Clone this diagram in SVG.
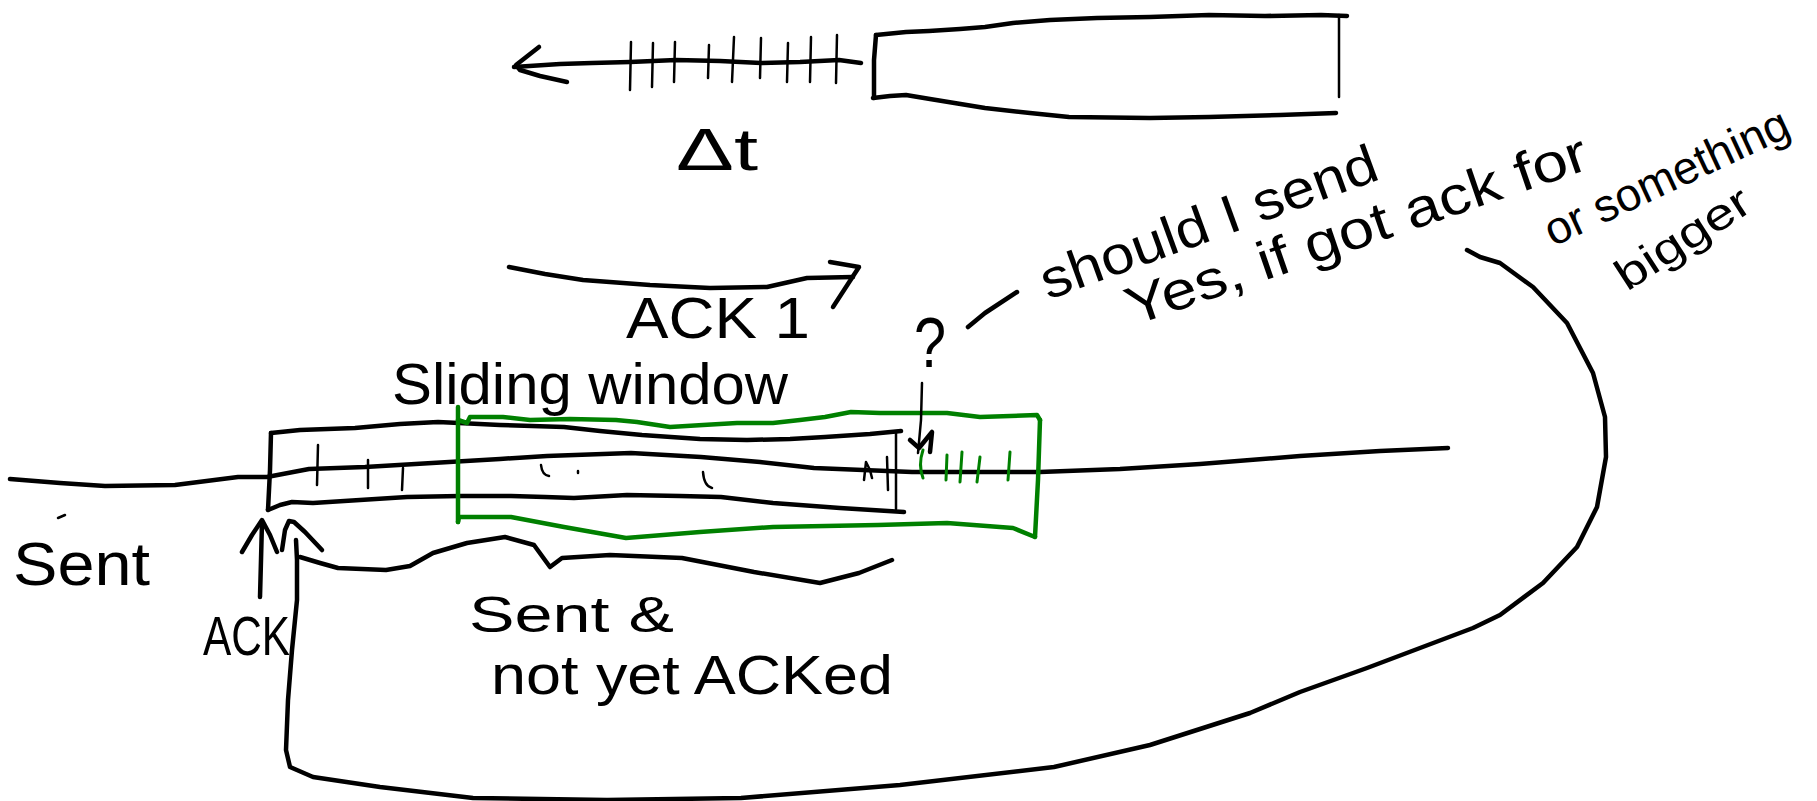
<svg xmlns="http://www.w3.org/2000/svg" width="1817" height="801" viewBox="0 0 1817 801">
  <style>
    .ink { fill: none; stroke: #000; stroke-width: 4.5; stroke-linecap: round; stroke-linejoin: round; }
    .thin { fill: none; stroke: #000; stroke-width: 2.5; stroke-linecap: round; stroke-linejoin: round; }
    .green { fill: none; stroke: #008000; stroke-width: 4.5; stroke-linecap: round; stroke-linejoin: round; }
    .green-thin { fill: none; stroke: #008000; stroke-width: 3; stroke-linecap: round; }
    .hand { font-family: "Liberation Sans", "DejaVu Sans", sans-serif; fill: #000; }
  </style>
  <rect width="1817" height="801" fill="#fff"/>

  <!-- time axis with ticks, pointing left -->
  <g id="timeline">
    <path class="ink" d="M861,63 L839,60 L800,62 L761,63 L720,61 L676,60 L630,62 L592,63 L560,64 L514,67"/>
    <path class="ink" d="M539,47 L516,65 L520,70 L540,76 L567,82"/>
    <path class="thin" d="M631,42 L630,90 M653,43 L652,87 M675,42 L674,82 M709,45 L708,78 M734,37 L732,82 M761,38 L760,78 M788,43 L787,82 M811,37 L810,82 M837,35 L836,83"/>
  </g>

  <!-- packet block on the time axis -->
  <g id="timeline-box">
    <path class="ink" d="M876,35 L906,32 L929,31 L960,29 L985,27 L1013,23 L1050,20 L1097,18 L1150,17 L1209,15 L1265,16 L1321,15 L1347,16"/>
    <path class="thin" d="M1339,15 L1339,97"/>
    <path class="ink" d="M876,35 L874,60 L874,98"/>
    <path class="ink" d="M873,98 L890,96 L906,95 L930,99 L985,108 L1030,113 L1069,117 L1150,118 L1209,117 L1280,115 L1336,113"/>
  </g>

  <g id="delta-t">
    <text class="hand" x="676" y="170" font-size="60" textLength="82" lengthAdjust="spacingAndGlyphs">Δt</text>
  </g>

  <g id="ack1">
    <text class="hand" x="626" y="338" font-size="58" textLength="184" lengthAdjust="spacingAndGlyphs">ACK 1</text>
  </g>

  <g id="question">
    <text class="hand" x="914" y="367" font-size="70" textLength="32" lengthAdjust="spacingAndGlyphs">?</text>
  </g>

  <!-- rotated notes -->
  <g id="note-should">
    <text class="hand" transform="translate(1048,300) rotate(-20)" font-size="54" textLength="355" lengthAdjust="spacingAndGlyphs">should I send</text>
  </g>
  <g id="note-yes">
    <text class="hand" transform="translate(1133,326) rotate(-19)" font-size="54" textLength="485" lengthAdjust="spacingAndGlyphs">Yes, if got ack for</text>
  </g>
  <g id="note-or">
    <text class="hand" transform="translate(1553,247) rotate(-25)" font-size="46" textLength="265" lengthAdjust="spacingAndGlyphs">or something</text>
  </g>
  <g id="note-bigger">
    <text class="hand" transform="translate(1627,292) rotate(-33)" font-size="44" textLength="152" lengthAdjust="spacingAndGlyphs">bigger</text>
  </g>

  <g id="sliding-window-label">
    <text class="hand" x="392" y="404" font-size="58" textLength="396" lengthAdjust="spacingAndGlyphs">Sliding window</text>
  </g>

  <!-- sent sequence line -->
  <g id="sent-line">
    <path class="ink" d="M10,479 L60,483 L105,486 L175,485 L238,477 L267,477 L309,469 L365,467 L449,462 L500,459 L547,456 L631,453 L701,457 L760,462 L814,468 L912,472 L1040,472 L1120,469 L1200,464 L1300,456 L1380,451 L1448,448"/>
  </g>

  <!-- sent but not yet acknowledged segment -->
  <g id="sent-box">
    <path class="ink" d="M271,433 L300,430 L355,428 L400,424 L438,422 L459,423 L500,425 L564,427 L600,431 L642,435 L700,439 L747,440 L790,439 L825,437 L870,434 L901,431"/>
    <path class="ink" d="M271,433 L270,470 L268,510"/>
    <path class="thin" d="M896,432 L896,509"/>
    <path class="ink" d="M268,510 L280,505 L292,502 L313,503 L360,500 L407,497 L460,496 L511,496 L545,497 L574,498 L627,495 L680,496 L721,497 L773,503 L840,508 L904,512"/>
    <path class="thin" d="M318,445 L317,485 M368,460 L368,488 M403,468 L402,490"/>
    <path class="thin" stroke-width="1.8" d="M541,465 Q542,475 549,476 M578,471 L578,473 M703,472 Q704,486 712,488 M864,480 L866,462 L870,470 L872,478 M887,457 L888,490"/>
  </g>

  <!-- sliding window -->
  <g id="window">
    <path class="green" d="M458,420 L467,423 L470,417 L503,417 L530,420 L570,419 L616,420 L637,422 L670,427 L703,425 L737,423 L773,423 L800,420 L825,417 L851,412 L880,413 L947,413 L980,417 L1037,415 L1040,420"/>
    <path class="green" d="M1040,420 L1038,480 L1035,537"/>
    <path class="green" d="M1035,537 L1013,528 L947,523 L878,525 L773,527 L700,532 L626,538 L564,527 L511,517 L459,517 L458,522"/>
    <path class="green" d="M458,407 L458,522"/>
    <path class="green-thin" d="M923,450 Q918,465 923,478 M947,455 L946,480 M962,452 L960,482 M980,457 L977,482 M1010,452 L1008,480"/>
  </g>

  <g id="sent-label">
    <text class="hand" x="13" y="585" font-size="62" textLength="137" lengthAdjust="spacingAndGlyphs">Sent</text>
    <path class="thin" stroke-width="1.5" d="M58,518 L65,515"/>
  </g>

  <g id="ack-label">
    <text class="hand" x="203" y="655" font-size="56" textLength="87" lengthAdjust="spacingAndGlyphs">ACK</text>
  </g>

  <g id="sent-not-acked-label">
    <text class="hand" x="469" y="632" font-size="50" textLength="205" lengthAdjust="spacingAndGlyphs">Sent &amp;</text>
    <text class="hand" x="491" y="694" font-size="56" textLength="402" lengthAdjust="spacingAndGlyphs">not yet ACKed</text>
  </g>

  <g id="connectors">
    <!-- ACK 1 arrow -->
    <path class="ink" d="M509,267 L545,274 L583,280 L650,285 L710,288 L767,287 L807,278 L853,277"/>
    <path class="ink" d="M830,262 L859,267 L833,307"/>
    <!-- from question mark down to the window edge -->
    <path class="ink" d="M968,327 L985,313 L1017,292"/>
    <path class="thin" d="M922,383 L921,420 L918,453"/>
    <path class="ink" d="M910,440 L919,448 L932,432 L930,452"/>
    <!-- brace under the sent segment -->
    <path class="ink" d="M300,557 L320,563 L338,568 L386,570 L410,566 L433,553 L467,543 L505,537 L534,545 L550,567 L562,558 L610,555 L682,558 L754,572 L820,583 L859,573 L892,560"/>
    <!-- ACK pointer -->
    <path class="ink" d="M260,597 L261,560 L262,522"/>
    <path class="ink" d="M242,552 L252,535 L262,520 L270,535 L277,552"/>
    <!-- loop back from the note to the window start -->
    <path class="ink" d="M1467,250 L1480,257 L1500,263 L1533,287 L1567,323 L1593,373 L1605,417 L1606,457 L1597,507 L1577,547 L1543,583 L1500,615 L1473,628 L1367,668 L1300,692 L1250,713 L1150,745 L1054,767 L900,785 L741,798 L607,800 L473,798 L380,787 L313,777 L290,767 L286,750 L288,700 L292,650 L297,600 L297,560 L296,540"/>
    <path class="ink" d="M282,550 L285,530 L289,521 L294,522 L305,532 L322,550"/>
  </g>
</svg>
